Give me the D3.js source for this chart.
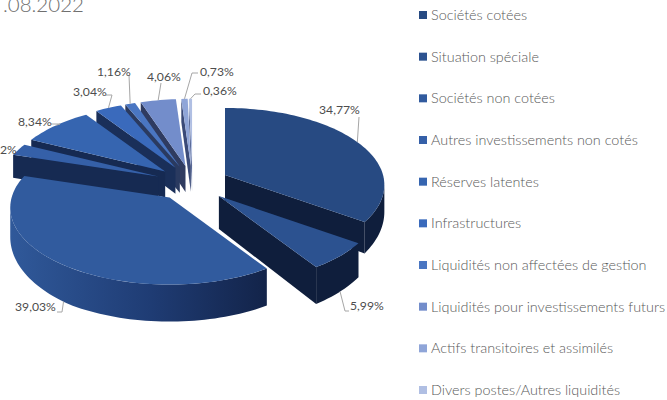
<!DOCTYPE html>
<html>
<head>
<meta charset="utf-8">
<script src="https://cdn.jsdelivr.net/npm/d3@7"></script>
<style>
  html, body { margin: 0; padding: 0; background: #fff; overflow: hidden; }
  text { font-family: Lato, "Open Sans", sans-serif; }
</style>
</head>
<body>
<div id="chart"></div>
<script>
const categories = ['Sociétés cotées', 'Situation spéciale', 'Sociétés non cotées', 'Autres investissements non cotés',
    'Réserves latentes', 'Infrastructures', 'Liquidités non affectées de gestion',
    'Liquidités pour investissements futurs', 'Actifs transitoires et assimilés', 'Divers postes/Autres liquidités'];
const values = [34.77, 5.99, 39.03, 2.52, 8.34, 3.04, 1.16, 4.06, 0.73, 0.36];
const labels = ['34,77%', '5,99%', '39,03%', '2,52%', '8,34%', '3,04%', '1,16%', '4,06%', '0,73%', '0,36%'];
const topColors = ['#274a82', '#2c5290', '#315b9e', '#3560a8', '#3665b0', '#3a6abc', '#4a76c2', '#738dcb', '#8fa5d8', '#b0bfe3'];
const wallColors = ['#0f1e3c', '#0f1e3c', '#14254a', '#162a52', '#162a52', '#1a2f59', '#2a3a60', '#2f3b60', '#3a4a78', '#5a6a98'];

// label text position and leader elbow, in page pixels
const labelX = [319, 350, 15, -17, 18, 73, 97, 147, 200, 203];
const labelY = [114, 310, 311, 154, 126, 96, 76, 81, 76, 95];
const leaderElbows = [
    [[359, 117]],
    [[345, 311], [349, 311]],
    [[62, 312], [57, 312]],
    null,
    [[60, 124], [51, 124]],
    [[112, 95], [106, 95]],
    [[129, 75]],
    [[161, 83]],
    [[192, 73], [198, 73]],
    [[195, 94], [201, 94]]
];

const width = 667, height = 400;
const cx = 192.5, cy = 183, rx = 158, ry = 75.7;
const persp = 0.13, explode = 0.235;

const svg = d3.select('#chart').append('svg').attr('width', width).attr('height', height);

const grad = svg.append('defs').append('linearGradient').attr('id', 'wallGrad')
    .attr('gradientUnits', 'userSpaceOnUse').attr('x1', 265).attr('x2', 10).attr('y1', 0).attr('y2', 0);
grad.append('stop').attr('offset', 0).attr('stop-color', '#13244a');
grad.append('stop').attr('offset', 0.45).attr('stop-color', '#1f3c74');
grad.append('stop').attr('offset', 1).attr('stop-color', '#30599a');

// Wall height grows towards the front of the picture
const wallHeight = d3.scaleLinear().domain([155, 219, 268]).range([23, 31, 37]).clamp(true);

// Flat circle to screen, near side a bit bigger than the far side
function project(ox, oy, r, a) {
    const f = 1 + persp * r * Math.cos(a);
    const y = oy - ry * r * Math.cos(a) / f;
    return [ox + rx * r * Math.sin(a) / f, y, wallHeight(y)];
}
function rim(a0, a1) {
    const n = Math.max(2, Math.ceil((a1 - a0) / 0.03));
    return d3.range(n + 1).map(i => a0 + (a1 - a0) * i / n);
}

const line = d3.line();
const slices = d3.pie().sort(null).startAngle(0).endAngle(2 * Math.PI)(values).map((d, i) => {
    const mid = (d.startAngle + d.endAngle) / 2;
    const apex = project(cx, cy, explode, mid);
    return { i, start: d.startAngle, end: d.endAngle, mid, ox: apex[0], oy: apex[1] };
});

const g = svg.append('g');
const limit = Math.acos(-persp);

slices.slice().sort((a, b) => d3.ascending(a.oy, b.oy)).forEach(s => {
    const pt = (a) => project(s.ox, s.oy, 1, a);
    const apexDrop = s.oy > 190 ? 33 : 26;
    const radialWall = (a) => {
        const p = pt(a);
        return line([[s.ox, s.oy], [p[0], p[1]], [p[0], p[1] + p[2]], [s.ox, s.oy + apexDrop]]) + 'Z';
    };
    const wallFill = s.i === 2 ? 'url(#wallGrad)' : wallColors[s.i];

    if (Math.sin(s.start) < 0) g.append('path').attr('d', radialWall(s.start)).attr('fill', wallColors[s.i]);
    if (Math.sin(s.end) > 0) g.append('path').attr('d', radialWall(s.end)).attr('fill', wallColors[s.i]);

    const lo = Math.max(s.start, limit), hi = Math.min(s.end, 2 * Math.PI - limit);
    if (lo < hi) {
        const pts = rim(lo, hi).map(pt);
        const outline = pts.map(p => [p[0], p[1]]).concat(pts.slice().reverse().map(p => [p[0], p[1] + p[2]]));
        g.append('path').attr('d', line(outline) + 'Z').attr('fill', wallFill);
    }

    const top = [[s.ox, s.oy]].concat(rim(s.start, s.end).map(a => pt(a).slice(0, 2)));
    g.append('path').attr('d', line(top) + 'Z').attr('fill', topColors[s.i]);
});

// Leaders and value labels
slices.forEach(s => {
    if (leaderElbows[s.i]) {
        const p = project(s.ox, s.oy, 1, s.mid);
        const front = Math.cos(s.mid) < 0;
        const from = [p[0], front ? p[1] + p[2] : p[1]];
        g.append('path').attr('d', line([from].concat(leaderElbows[s.i])))
            .attr('fill', 'none').attr('stroke', '#a6a6a6').attr('stroke-width', 1);
    }
    g.append('text').attr('x', labelX[s.i]).attr('y', labelY[s.i])
        .attr('font-size', 12.2).attr('fill', '#4d4d4d').text(labels[s.i]);
});

// Legend
const legendY = d3.scalePoint().domain(categories).range([15, 390]);
const legend = svg.append('g').selectAll('g').data(categories).join('g')
    .attr('transform', d => `translate(419,${legendY(d)})`);
legend.append('rect').attr('x', 0).attr('y', -4).attr('width', 8).attr('height', 8)
    .attr('fill', (d, i) => topColors[i]);
legend.append('text').attr('x', 12).attr('y', 5).attr('font-size', 14.4).attr('font-weight', 300)
    .attr('fill', '#595959').text(d => d);

svg.append('text').attr('x', 3).attr('y', 12).attr('font-size', 20.5).attr('font-weight', 300)
    .attr('fill', '#6f6f6f').text('.08.2022');
</script>
</body>
</html>
